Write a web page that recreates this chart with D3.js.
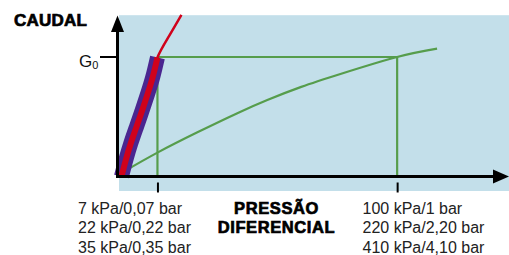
<!DOCTYPE html>
<html><head><meta charset="utf-8">
<script src="https://cdn.jsdelivr.net/npm/d3@7"></script>
<style>body{margin:0;background:#fff}svg{display:block}</style>
</head><body>
<script>
// Data (arbitrary units: pressure on x, flow on y; G0 = 1)
const tickValues = [1, 7];
const leftLabels = ["7 kPa/0,07 bar", "22 kPa/0,22 bar", "35 kPa/0,35 bar"];
const rightLabels = ["100 kPa/1 bar", "220 kPa/2,20 bar", "410 kPa/4,10 bar"];
const axisTitleX = ["PRESSÃO", "DIFERENCIAL"];
const axisTitleY = "CAUDAL";
const g0Value = 1;
// green curve (large valve)
const greenX = [0.15, 1, 2, 3, 3.75, 4.6, 5.6, 7, 8];
const greenY = [0.04, 0.2, 0.37, 0.53, 0.64, 0.75, 0.86, 1.0, 1.07];
// red curve (small valve); first points form the highlighted band
const redX = [0.1, 0.208, 0.333, 0.476, 0.621, 0.758, 0.884, 1.0, 1.282, 1.6];
const redY = [0.0, 0.138, 0.278, 0.417, 0.557, 0.696, 0.835, 0.996, 1.17, 1.352];
const bandCount = 8;

const W = 509, H = 255;
const svg = d3.select("body").append("svg").attr("width", W).attr("height", H);
const x = d3.scaleLinear().domain([0, 9.8]).range([117.5, 509]);
const y = d3.scaleLinear().domain([0, 1.35]).range([176.5, 15.2]);

const C = {bg: "#c3dfea", green: "#569d4c", red: "#d0021b", purple: "#4a2690", black: "#000"};

// background
svg.append("rect").attr("x", 119).attr("y", y(1.35)).attr("width", W - 119).attr("height", 191 - y(1.35)).attr("fill", C.bg);

// green guide lines
const gl = svg.append("g").attr("stroke", C.green).attr("stroke-width", 2.2).attr("fill", "none");
gl.append("line").attr("x1", x(tickValues[0])).attr("x2", x(tickValues[1])).attr("y1", y(g0Value)).attr("y2", y(g0Value));
tickValues.forEach(v => gl.append("line").attr("x1", x(v)).attr("x2", x(v)).attr("y1", y(g0Value)).attr("y2", y(0)));

// green curve
const line = d3.line().x(d => x(d[0])).y(d => y(d[1])).curve(d3.curveNatural);
svg.append("path").datum(greenX.map((v, i) => [v, greenY[i]])).attr("d", line)
  .attr("fill", "none").attr("stroke", C.green).attr("stroke-width", 2.2);

// red band
const redPts = redX.map((v, i) => [v, redY[i]]);
const band = redPts.slice(0, bandCount);
svg.append("path").datum(band).attr("d", line).attr("fill", "none").attr("stroke", C.purple).attr("stroke-width", 15);
svg.append("path").datum(redPts.slice(bandCount - 2)).attr("d", line).attr("fill", "none").attr("stroke", C.red).attr("stroke-width", 2.5);
svg.append("path").datum(band).attr("d", line).attr("fill", "none").attr("stroke", C.red).attr("stroke-width", 6);

// axes
const ax = svg.append("g").attr("transform", `translate(0,${y(0)})`)
  .call(d3.axisBottom(x).tickValues(tickValues).tickSize(0).tickFormat(""));
ax.select(".domain").remove();
ax.selectAll(".tick line").attr("y1", 6).attr("y2", 16).attr("stroke", C.black).attr("stroke-width", 2);

svg.append("line").attr("x1", 116).attr("x2", 495).attr("y1", y(0)).attr("y2", y(0)).attr("stroke", C.black).attr("stroke-width", 3);
svg.append("path").attr("d", `M509,${y(0)} L493,${y(0) - 7} L493,${y(0) + 7} Z`).attr("fill", C.black);
svg.append("line").attr("x1", x(0)).attr("x2", x(0)).attr("y1", y(0) + 1.5).attr("y2", 30).attr("stroke", C.black).attr("stroke-width", 3);
svg.append("path").attr("d", `M${x(0)},15.5 L${x(0) - 6.5},32 L${x(0) + 6.5},32 Z`).attr("fill", C.black);

// G0 tick
svg.append("line").attr("x1", 100).attr("x2", x(0)).attr("y1", y(g0Value)).attr("y2", y(g0Value)).attr("stroke", C.black).attr("stroke-width", 2);
const gt = svg.append("text").attr("x", 79).attr("y", 67).attr("font-family", "Liberation Sans, Arial, sans-serif").attr("font-size", 17).attr("fill", "#111");
gt.append("tspan").text("G");
gt.append("tspan").attr("font-size", 11).attr("dy", 2).text("0");

// titles
svg.append("text").attr("x", 14).attr("y", 26).text(axisTitleY)
  .attr("font-family", "Liberation Sans, Arial, sans-serif").attr("font-weight", "bold").attr("font-size", 17)
  .attr("stroke", "#000").attr("stroke-width", 0.7).attr("letter-spacing", 0.2);
axisTitleX.forEach((t, i) => svg.append("text").attr("x", 276.5).attr("y", 214 + i * 19.3).attr("text-anchor", "middle").text(t)
  .attr("font-family", "Liberation Sans, Arial, sans-serif").attr("font-weight", "bold").attr("font-size", 16.5)
  .attr("stroke", "#000").attr("stroke-width", 0.7).attr("letter-spacing", 0.6));

// tick labels
const lf = {family: "Liberation Sans, Arial, sans-serif", size: 16};
leftLabels.forEach((t, i) => svg.append("text").attr("x", 78).attr("y", 214 + i * 19.3).text(t)
  .attr("font-family", lf.family).attr("font-size", lf.size).attr("fill", "#222"));
rightLabels.forEach((t, i) => svg.append("text").attr("x", 362.5).attr("y", 214 + i * 19.3).text(t)
  .attr("font-family", lf.family).attr("font-size", lf.size).attr("fill", "#222"));
</script>
</body></html>
